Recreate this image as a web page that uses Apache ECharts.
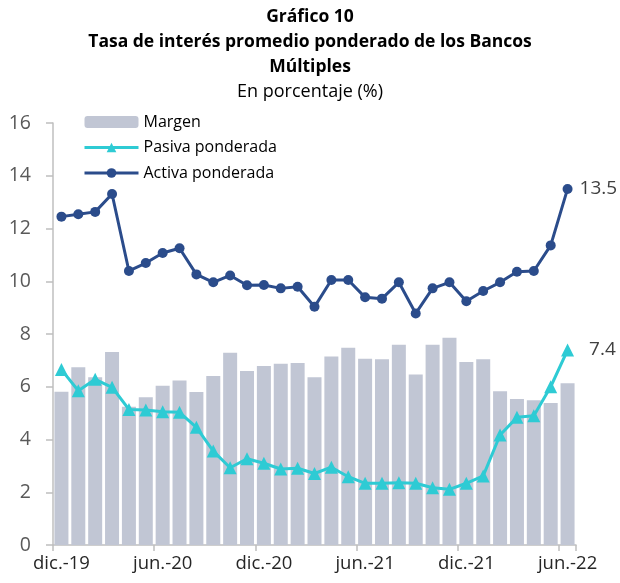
<!DOCTYPE html>
<html>
<head>
<meta charset="utf-8">
<script src="https://cdn.jsdelivr.net/npm/echarts@6/dist/echarts.min.js"></script>
<style>
html,body{margin:0;padding:0;background:#fff;}
#chart{width:620px;height:583px;}
</style>
</head>
<body>
<div id="chart"></div>
<script>
const categories = ['dic.-19','ene.-20','feb.-20','mar.-20','abr.-20','may.-20','jun.-20','jul.-20','ago.-20','sep.-20','oct.-20','nov.-20','dic.-20','ene.-21','feb.-21','mar.-21','abr.-21','may.-21','jun.-21','jul.-21','ago.-21','sep.-21','oct.-21','nov.-21','dic.-21','ene.-22','feb.-22','mar.-22','abr.-22','may.-22','jun.-22'];
const margen = [5.81,6.74,6.36,7.32,5.24,5.60,6.04,6.24,5.80,6.41,7.29,6.60,6.79,6.87,6.90,6.36,7.15,7.48,7.06,7.04,7.59,6.46,7.59,7.86,6.94,7.04,5.83,5.54,5.49,5.38,6.13];
const pasiva = [6.65,5.85,6.28,5.98,5.14,5.12,5.05,5.03,4.46,3.56,2.93,3.27,3.10,2.88,2.91,2.71,2.95,2.59,2.34,2.34,2.36,2.34,2.17,2.11,2.34,2.62,4.17,4.84,4.90,6.00,7.39];
const activa = [12.45,12.54,12.63,13.31,10.39,10.69,11.07,11.25,10.26,9.96,10.22,9.85,9.86,9.73,9.79,9.03,10.05,10.05,9.39,9.34,9.96,8.78,9.73,9.96,9.24,9.63,9.96,10.36,10.39,11.36,13.50];
const yTicks = [0,2,4,6,8,10,12,14,16];

const FONT = 'Open Sans';
const chart = echarts.init(document.getElementById('chart'), null, {renderer:'canvas'});
const lastIdx = categories.length - 1;

chart.setOption({
  animation:false,
  backgroundColor:'#ffffff',
  textStyle:{fontFamily:FONT},
  title:[
    {text:'Gráfico 10', left:'center', top:3, textStyle:{fontFamily:FONT, fontSize:17.5, fontWeight:'bold', color:'#000'}},
    {text:'Tasa de interés promedio ponderado de los Bancos', left:'center', top:28, textStyle:{fontFamily:FONT, fontSize:17.5, fontWeight:'bold', color:'#000'}},
    {text:'Múltiples', left:'center', top:53, textStyle:{fontFamily:FONT, fontSize:17.5, fontWeight:'bold', color:'#000'}},
    {text:'En porcentaje (%)', left:'center', top:78, textStyle:{fontFamily:FONT, fontSize:18, fontWeight:'normal', color:'#000'}}
  ],
  legend:{
    orient:'vertical', left:78, top:106, itemWidth:54, itemHeight:12, itemGap:3.5,
    lineStyle:{width:3},
    textStyle:{fontFamily:FONT, fontSize:16, color:'#000', lineHeight:22},
    data:['Margen','Pasiva ponderada','Activa ponderada']
  },
  grid:{left:53, right:44, top:123, bottom:38, containLabel:false},
  xAxis:{
    type:'category', data:categories, boundaryGap:true,
    axisLine:{lineStyle:{color:'#bfbfbf', width:1.5}},
    axisTick:{show:true, interval:5, length:6, lineStyle:{color:'#bfbfbf', width:1.5}},
    axisLabel:{interval:5, fontSize:18.5, color:'#262626', margin:9, fontFamily:FONT},
    splitLine:{show:false}
  },
  yAxis:{
    type:'value', min:0, max:16, interval:2,
    axisLine:{show:true, lineStyle:{color:'#bfbfbf', width:1.5}},
    axisTick:{show:true, length:7, inside:false, lineStyle:{color:'#bfbfbf', width:1.5}},
    axisLabel:{fontSize:19.5, color:'#595959', margin:22, fontFamily:FONT, formatter:(v)=>yTicks.includes(v)?String(v):''},
    splitLine:{show:false}
  },
  series:[
    {name:'Margen', type:'bar', data:margen, barCategoryGap:'17%', itemStyle:{color:'#c1c6d4'}, z:1},
    {name:'Pasiva ponderada', type:'line', data:pasiva, symbol:'triangle', symbolSize:13, showAllSymbol:true,
      lineStyle:{color:'#2ecbd4', width:3}, itemStyle:{color:'#2ecbd4'}, z:3,
      label:{show:true, position:'right', distance:15, fontSize:19, color:'#404040', fontFamily:FONT,
        formatter:(p)=>p.dataIndex===lastIdx?p.value.toFixed(1):''}},
    {name:'Activa ponderada', type:'line', data:activa, symbol:'circle', symbolSize:10, showAllSymbol:true,
      lineStyle:{color:'#2b4c8b', width:3}, itemStyle:{color:'#2b4c8b'}, z:4,
      label:{show:true, position:'right', distance:7, fontSize:19, color:'#404040', fontFamily:FONT,
        formatter:(p)=>p.dataIndex===lastIdx?p.value.toFixed(1):''}}
  ]
});
</script>
</body>
</html>
